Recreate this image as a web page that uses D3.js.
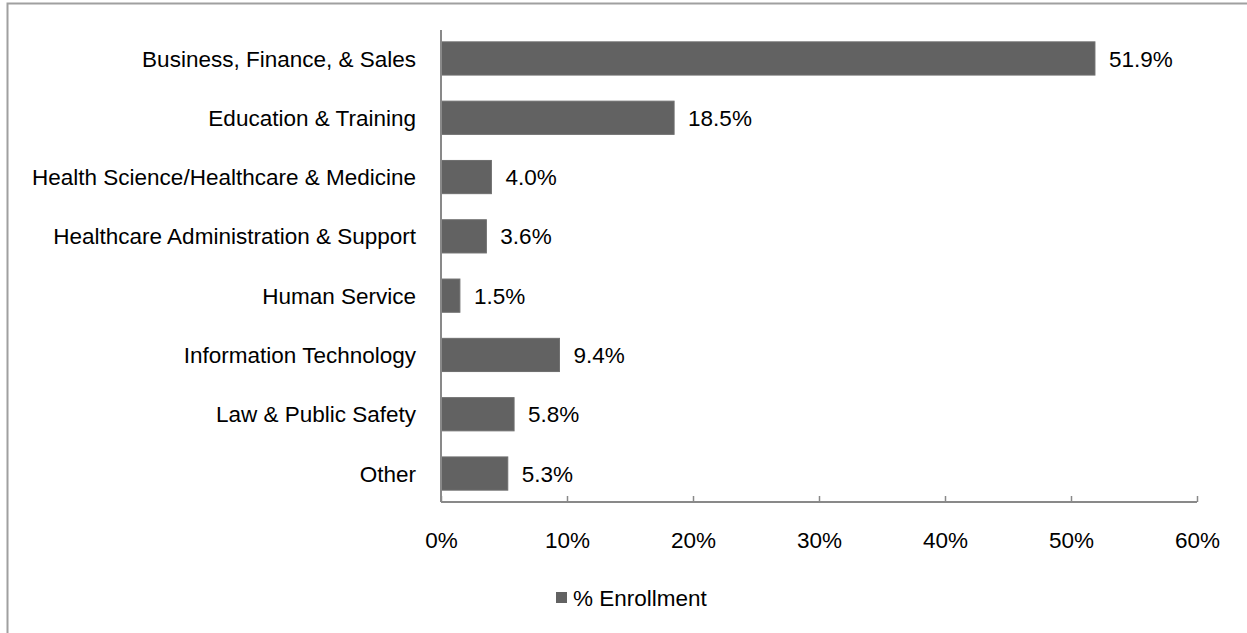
<!DOCTYPE html>
<html>
<head>
<meta charset="utf-8">
<script src="https://cdn.jsdelivr.net/npm/d3@7"></script>
<style>
  body { margin: 0; background: #fff; }
  svg text { font-family: "Liberation Sans", Arial, sans-serif; fill: #000; }
</style>
</head>
<body>
<div id="chart"></div>
<script>
const categories = [
  "Business, Finance, & Sales",
  "Education & Training",
  "Health Science/Healthcare & Medicine",
  "Healthcare Administration & Support",
  "Human Service",
  "Information Technology",
  "Law & Public Safety",
  "Other"
];
const enrollment = [51.9, 18.5, 4.0, 3.6, 1.5, 9.4, 5.8, 5.3];
const xTicks = [0, 10, 20, 30, 40, 50, 60];
const seriesName = "% Enrollment";

const width = 1247, height = 633;
const margin = { top: 30, right: 50, bottom: 131, left: 441 };
const barColor = "#626262";
const axisColor = "#898989";
const fontSize = 22.5;

const svg = d3.select("#chart").append("svg")
  .attr("width", width)
  .attr("height", height);

// outer frame
svg.append("rect")
  .attr("x", 7.5).attr("y", 3.5)
  .attr("width", width + 10).attr("height", height + 10)
  .attr("fill", "none")
  .attr("stroke", "#a0a0a0")
  .attr("stroke-width", 2);

const x = d3.scaleLinear()
  .domain([0, 60])
  .range([margin.left, width - margin.right]);

const y = d3.scaleBand()
  .domain(categories)
  .range([margin.top, height - margin.bottom])
  .paddingInner(0.44)
  .paddingOuter(0.2);

const data = categories.map((c, i) => ({ cat: c, val: enrollment[i] }));

// bars
svg.append("g").selectAll("rect")
  .data(data).join("rect")
  .attr("x", x(0))
  .attr("y", d => y(d.cat))
  .attr("width", d => x(d.val) - x(0))
  .attr("height", y.bandwidth())
  .attr("fill", barColor)
  .attr("stroke", "#6e6e6e")
  .attr("stroke-width", 1);

// value labels
svg.append("g").selectAll("text")
  .data(data).join("text")
  .attr("x", d => x(d.val) + 14)
  .attr("y", d => y(d.cat) + y.bandwidth() / 2)
  .attr("dy", "0.36em")
  .attr("font-size", fontSize)
  .text(d => d.val.toFixed(1) + "%");

// category labels
svg.append("g").selectAll("text")
  .data(categories).join("text")
  .attr("x", x(0) - 25)
  .attr("y", d => y(d) + y.bandwidth() / 2)
  .attr("dy", "0.36em")
  .attr("text-anchor", "end")
  .attr("font-size", fontSize)
  .text(d => d);

// x axis (ticks point up, inside)
const axisY = height - margin.bottom;
const xAxis = svg.append("g")
  .attr("transform", `translate(0,${axisY})`)
  .call(d3.axisBottom(x).tickValues(xTicks).tickSize(-6).tickPadding(0).tickFormat(d => d + "%"));
xAxis.select(".domain").remove();
xAxis.selectAll(".tick line").attr("stroke", axisColor).attr("stroke-width", 1.5);
xAxis.selectAll(".tick text")
  .attr("y", 38)
  .attr("dy", "0.36em")
  .attr("font-size", fontSize)
  .attr("font-family", "Liberation Sans, Arial, sans-serif")
  .attr("fill", "#000");

svg.append("line")
  .attr("x1", x(0)).attr("x2", x(60))
  .attr("y1", axisY).attr("y2", axisY)
  .attr("stroke", axisColor).attr("stroke-width", 2);

// y axis line
svg.append("line")
  .attr("x1", x(0)).attr("x2", x(0))
  .attr("y1", margin.top).attr("y2", axisY)
  .attr("stroke", axisColor).attr("stroke-width", 2);

// legend
const legend = svg.append("g").attr("transform", "translate(556,592)");
legend.append("rect")
  .attr("width", 11).attr("height", 11)
  .attr("fill", barColor);
legend.append("text")
  .attr("x", 17).attr("y", 6)
  .attr("dy", "0.36em")
  .attr("font-size", fontSize)
  .text(seriesName);
</script>
</body>
</html>
